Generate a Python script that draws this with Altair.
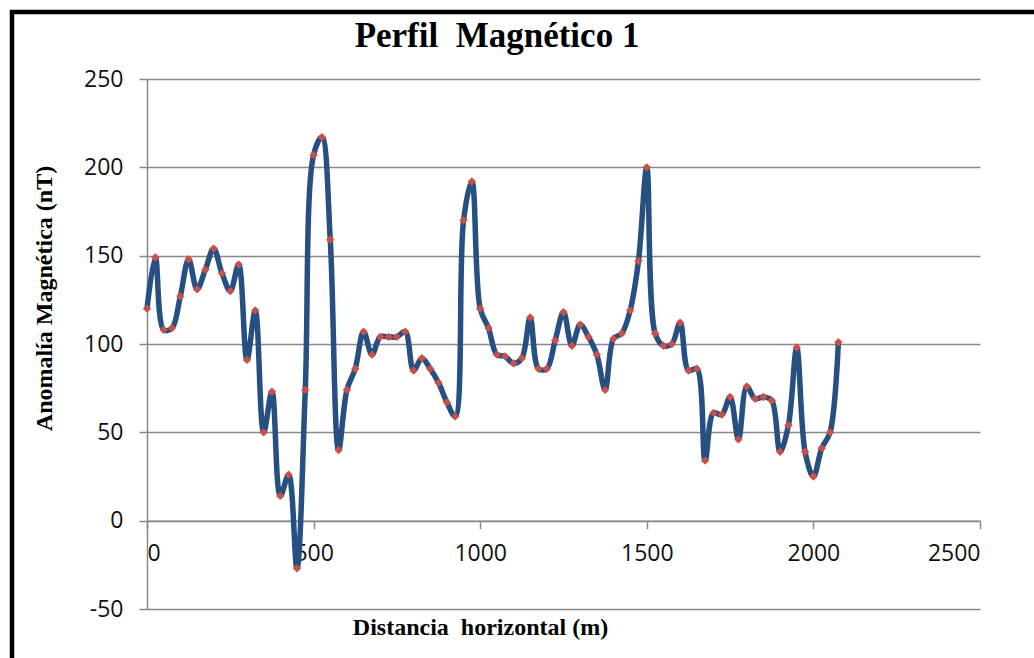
import altair as alt
import pandas as pd

# Magnetic profile readings: horizontal distance (m) and anomaly (nT)
distancia = [
    0, 25, 50, 75, 100, 125, 150, 175, 200, 225, 250, 275, 300, 325, 350, 375,
    400, 425, 450, 475, 500, 525, 550, 575, 600, 625, 650, 675, 700, 725, 750, 775,
    800, 825, 850, 875, 900, 925, 950, 975, 1000, 1025, 1050, 1075, 1100, 1125,
    1150, 1175, 1200, 1225, 1250, 1275, 1300, 1325, 1350, 1375, 1400, 1425, 1450,
    1475, 1500, 1525, 1550, 1575, 1600, 1625, 1650, 1675, 1700, 1725, 1750, 1775,
    1800, 1825, 1850, 1875, 1900, 1925, 1950, 1975, 2000, 2025, 2050, 2075,
]
anomalia = [
    120, 149, 108, 109, 127, 148, 131, 142, 154, 140, 130, 145, 91, 119, 50, 73,
    14, 26, -27, 74, 207, 217, 159, 40, 74, 86, 107, 94, 104, 104, 104, 107,
    85, 92, 86, 78, 67, 59, 170, 192, 120, 109, 94, 93, 89, 92,
    115, 86, 86, 102, 118, 99, 111, 104, 94, 74, 103, 106, 119,
    147, 200, 106, 99, 100, 112, 85, 86, 34, 61, 60, 70, 46,
    76, 69, 70, 68, 39, 54, 98, 39, 25, 41, 50, 101,
]

x_ticks = [0, 500, 1000, 1500, 2000, 2500]
y_ticks = [-50, 0, 50, 100, 150, 200, 250]
titulo = "Perfil\u00a0 Magnético 1"

df = pd.DataFrame({"distancia": distancia, "anomalia": anomalia})

W, H = 833, 530
LEFT, TOP = 147, 79
GRAY = "#898989"
SERIF = "Liberation Serif"
SANS = "Open Sans"
PLAIN_NUM = "'' + datum.value"

x_enc = alt.X(
    "distancia:Q",
    scale=alt.Scale(domain=[0, 2500], nice=False),
    axis=alt.Axis(
        values=x_ticks,
        labelExpr=PLAIN_NUM,
        offset=-H * 50 / 300,
        grid=False,
        domainColor=GRAY,
        domainWidth=1.5,
        tickColor=GRAY,
        tickWidth=1.5,
        tickSize=8,
        labelFont=SANS,
        labelFontSize=23,
        labelColor="#111111",
        labelPadding=14,
        title="Distancia\u00a0 horizontal (m)",
        titleFont=SERIF,
        titleFontSize=24,
        titleFontWeight="bold",
        titleColor="black",
        titleX=333,
        titleY=95,
    ),
)
y_enc = alt.Y(
    "anomalia:Q",
    scale=alt.Scale(domain=[-50, 250], nice=False),
    axis=alt.Axis(
        values=y_ticks,
        labelExpr=PLAIN_NUM,
        grid=True,
        gridColor=GRAY,
        gridWidth=1.5,
        domainColor=GRAY,
        domainWidth=1.5,
        tickColor=GRAY,
        tickWidth=1.5,
        tickSize=8,
        labelFont=SANS,
        labelFontSize=23,
        labelColor="#111111",
        labelPadding=16,
        title="Anomalía Magnética (nT)",
        titleFont=SERIF,
        titleFontSize=24,
        titleFontWeight="bold",
        titleColor="black",
        titleX=-91,
        titleY=219,
    ),
)

base = alt.Chart(df)

curve = base.mark_line(
    interpolate="catmull-rom", color="#264F82", strokeWidth=5.5
).encode(x=x_enc, y=y_enc)

points = base.mark_point(
    shape="diamond", filled=True, color="#C8504B", size=70, opacity=1
).encode(x="distancia:Q", y="anomalia:Q")

# Chart heading, placed above the plot area
heading = alt.Chart(alt.Data(values=[{"t": titulo}])).mark_text(
    font=SERIF,
    fontSize=35,
    fontWeight="bold",
    color="black",
    align="center",
    baseline="alphabetic",
).encode(x=alt.value(497 - LEFT), y=alt.value(47 - TOP), text="t:N")

# Outer frame around the whole figure
frame = alt.Chart(alt.Data(values=[{}])).mark_rect(
    fill=None, stroke="black", strokeWidth=4.5
).encode(
    x=alt.value(12 - LEFT),
    y=alt.value(12 - TOP),
    x2=alt.value(1034 - LEFT + 30),
    y2=alt.value(658 - TOP + 30),
)

chart = (
    alt.layer(curve, points, heading, frame)
    .properties(
        width=W,
        height=H,
        padding={"left": LEFT, "top": TOP, "right": 1034 - LEFT - W, "bottom": 658 - TOP - H},
        autosize=alt.AutoSizeParams(type="none"),
        background="white",
    )
    .configure_view(stroke=None)
)

chart.save("out.html", embed_options={"renderer": "svg", "actions": False})
